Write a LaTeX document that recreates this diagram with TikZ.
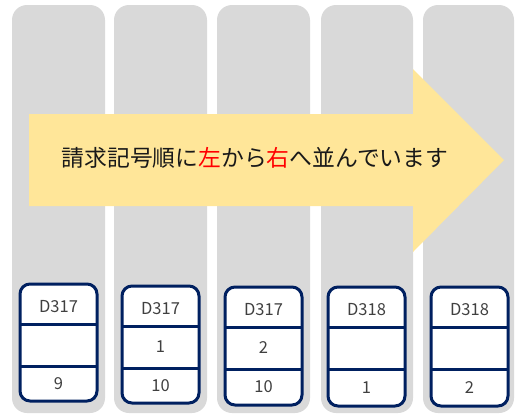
\documentclass[tikz,border=0pt]{standalone}
\usepackage{fontspec}
\setmainfont{Noto Sans CJK JP}
\newfontfamily\jpfont{Noto Sans CJK JP}
\definecolor{colgray}{HTML}{D9D9D9}
\definecolor{arrowyellow}{HTML}{FFE699}
\definecolor{cardnavy}{HTML}{002060}
\definecolor{cardtext}{HTML}{404040}
\tikzset{
  column/.style={fill=colgray, rounded corners=15pt},
  card/.style={draw=cardnavy, line width=3pt, fill=white, rounded corners=10pt},
  cardrule/.style={draw=cardnavy, line width=3pt},
  cardlabel/.style={text=cardtext, font=\jpfont\fontsize{16.5}{18}\selectfont}
}

\begin{document}
\begin{tikzpicture}[x=1pt,y=-1pt]
\useasboundingbox (0,0) rectangle (515,416);
% grey columns
\foreach \l/\r [count=\i] in {12/105,114/207,217/310,321/413,423/514}
\fill[column] (\l,5) rectangle (\r,413);
% arrow
\fill[arrowyellow] (29,114) -- (413,114) -- (413,69) -- (504,160)
  -- (413,252) -- (413,206) -- (29,206) -- cycle;
\node[font=\jpfont\fontsize{22.8}{26}\selectfont, text=black!90] (order) at (255,158)
  {請求記号順に\textcolor{red}{左}から\textcolor{red}{右}へ並んでいます};
% cards
\foreach \x/\t/\b/\top/\mid/\low [count=\i] in
  {20/284/401/D317//9, 122/286/403/D317/1/10, 225/287/405/D317/2/10,
   328/287/406/D318//1, 431/287/406/D318//2}
{
\draw[card] (\x,\t) rectangle (\x+77,\b);
\draw[cardrule] (\x,\t+40) -- (\x+77,\t+40);
\draw[cardrule] (\x,\t+82) -- (\x+77,\t+82);
\node[cardlabel] (top\i) at (\x+38.5,\t+23) {\top};
\node[cardlabel] (mid\i) at (\x+38.5,\t+61) {\mid};
\node[cardlabel] (low\i) at (\x+38.5,{(\t+82+\b)/2}) {\low};
}
\end{tikzpicture}
\end{document}
